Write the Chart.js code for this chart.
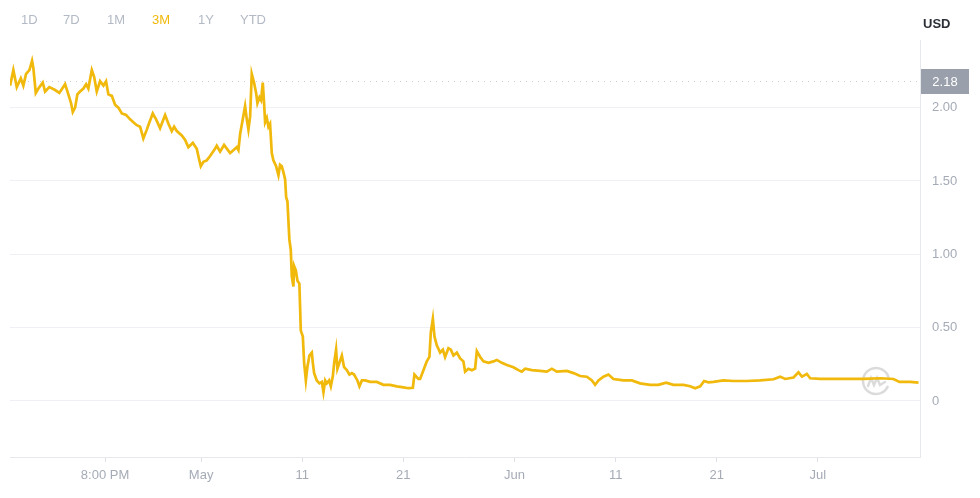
<!DOCTYPE html>
<html>
<head>
<meta charset="utf-8">
<script src="https://cdn.jsdelivr.net/npm/chart.js@4.4.1/dist/chart.umd.min.js"></script>
<style>
    body { margin: 0; background: #fff; font-family: Arial, "Liberation Sans", sans-serif; }
    #wrap { position: relative; width: 980px; height: 498px; }
    .ranges { position: absolute; left: 21px; top: 12px; font-size: 13px; color: #b3bac5; }
    .ranges span { position: absolute; white-space: nowrap; }
    .ranges span.active { color: #f0b90b; }
    .usd { position: absolute; left: 923px; top: 16px; font-size: 13px; font-weight: bold; color: #2b2f36; }
</style>
</head>
<body>
<div id="wrap">
    <div class="ranges" id="ranges"></div>
    <div class="usd">USD</div>
    <canvas id="priceChart"></canvas>
</div>
<script>
// days counted from May 1 (0 = May 1)
const days = [
    -18.89, -18.57, -18.23, -17.83, -17.58, -17.31, -16.98, -16.72, -16.59, -16.35,
    -16.09, -15.66, -15.43, -15.01, -14.44, -14.02, -13.45, -13.13, -12.86, -12.69,
    -12.46, -12.24, -11.97, -11.64, -11.37, -11.15, -10.81, -10.58, -10.32, -9.99,
    -9.66, -9.40, -9.17, -8.83, -8.51, -8.18, -7.84, -7.42, -7.02, -6.70,
    -6.36, -6.03, -5.71, -5.37, -5.11, -4.78, -4.45, -4.06, -3.56, -3.23,
    -2.90, -2.67, -2.40, -1.91, -1.58, -1.26, -0.82, -0.43, -0.17, -0.03,
    0.23, 0.56, 0.89, 1.38, 1.55, 1.88, 2.27, 2.60, 2.87, 3.19,
    3.53, 3.69, 3.86, 4.12, 4.35, 4.52, 4.68, 4.85, 5.01, 5.24,
    5.44, 5.57, 5.77, 5.93, 6.10, 6.23, 6.33, 6.50, 6.66, 6.82,
    6.99, 7.15, 7.42, 7.65, 7.81, 7.98, 8.14, 8.31, 8.41, 8.54,
    8.73, 8.87, 8.97, 9.13, 9.20, 9.37, 9.53, 9.72, 9.86, 10.06,
    10.19, 10.36, 10.51, 10.71, 10.95, 11.05, 11.18, 11.44, 11.70, 11.94,
    12.10, 12.27, 12.43, 12.66, 12.83, 13.03, 13.16, 13.35, 13.48, 13.68,
    13.92, 14.14, 14.41, 14.67, 14.91, 15.13, 15.46, 15.66, 15.90, 16.22,
    16.72, 17.38, 18.03, 18.69, 19.36, 20.01, 20.50, 20.94, 21.10, 21.49,
    21.66, 21.99, 22.32, 22.58, 22.72, 22.92, 23.08, 23.31, 23.64, 23.91,
    24.13, 24.46, 24.70, 24.96, 25.29, 25.62, 25.94, 26.11, 26.44, 26.78,
    27.10, 27.27, 27.60, 27.92, 28.42, 28.91, 29.25, 29.74, 30.24, 30.89,
    31.38, 31.72, 32.05, 32.71, 33.53, 34.19, 34.69, 35.18, 36.17, 36.83,
    37.49, 38.15, 38.65, 38.97, 39.30, 39.79, 40.29, 40.78, 41.77, 42.60,
    43.42, 44.41, 45.23, 45.99, 46.71, 47.71, 48.37, 48.86, 49.36, 49.75,
    50.18, 50.67, 51.66, 52.65, 53.98, 55.29, 56.61, 57.27, 57.76, 58.59,
    59.08, 59.42, 59.91, 60.24, 61.23, 62.55, 63.87, 65.51, 67.16, 68.48,
    69.07, 70.13, 70.95
];
const prices = [
    2.15, 2.256, 2.14, 2.20, 2.15, 2.23, 2.256, 2.32, 2.27, 2.10,
    2.13, 2.17, 2.11, 2.14, 2.12, 2.10, 2.16, 2.09, 2.03, 1.97,
    2.00, 2.09, 2.11, 2.13, 2.16, 2.13, 2.256, 2.21, 2.11, 2.18,
    2.15, 2.18, 2.09, 2.08, 2.02, 2.00, 1.96, 1.95, 1.92, 1.90,
    1.88, 1.87, 1.79, 1.85, 1.90, 1.96, 1.92, 1.86, 1.95, 1.89,
    1.84, 1.87, 1.84, 1.81, 1.78, 1.73, 1.76, 1.72, 1.64, 1.60,
    1.63, 1.64, 1.67, 1.72, 1.74, 1.70, 1.745, 1.715, 1.69, 1.71,
    1.73, 1.71, 1.82, 1.92, 2.01, 1.92, 1.85, 1.94, 2.23, 2.17,
    2.10, 2.03, 2.07, 2.05, 2.17, 2.03, 1.90, 1.93, 1.87, 1.89,
    1.69, 1.64, 1.60, 1.54, 1.61, 1.60, 1.56, 1.51, 1.39, 1.36,
    1.10, 1.03, 0.85, 0.78, 0.92, 0.89, 0.82, 0.80, 0.48, 0.44,
    0.26, 0.14, 0.23, 0.31, 0.33, 0.26, 0.19, 0.14, 0.12, 0.13,
    0.06, 0.14, 0.12, 0.14, 0.10, 0.17, 0.26, 0.35, 0.22, 0.26,
    0.31, 0.23, 0.21, 0.18, 0.19, 0.18, 0.14, 0.10, 0.14, 0.14,
    0.13, 0.13, 0.11, 0.11, 0.10, 0.093, 0.087, 0.09, 0.18, 0.15,
    0.15, 0.21, 0.27, 0.30, 0.47, 0.56, 0.44, 0.38, 0.33, 0.35,
    0.30, 0.36, 0.35, 0.31, 0.33, 0.29, 0.27, 0.20, 0.22, 0.21,
    0.22, 0.34, 0.30, 0.27, 0.26, 0.27, 0.28, 0.26, 0.245, 0.23,
    0.21, 0.20, 0.22, 0.21, 0.205, 0.20, 0.22, 0.20, 0.205, 0.19,
    0.17, 0.165, 0.14, 0.11, 0.14, 0.165, 0.18, 0.15, 0.14, 0.14,
    0.12, 0.11, 0.11, 0.125, 0.11, 0.11, 0.10, 0.087, 0.10, 0.136,
    0.127, 0.13, 0.14, 0.136, 0.136, 0.14, 0.148, 0.166, 0.15, 0.16,
    0.195, 0.166, 0.184, 0.155, 0.15, 0.15, 0.15, 0.15, 0.155, 0.15,
    0.13, 0.13, 0.125
];

const xTickDays = [-9.5, 0, 10, 20, 31, 41, 51, 61];
const xTickLabels = ['8:00 PM', 'May', '11', '21', 'Jun', '11', '21', 'Jul'];
const yTicks = [0, 0.5, 1, 1.5, 2];
const markerPrice = 2.18;

const rangeLabels = ['1D', '7D', '1M', '3M', '1Y', 'YTD'];
const rangeLeft = [0, 42, 86, 131, 177, 219];
const activeRange = '3M';

const rangesEl = document.getElementById('ranges');
rangeLabels.forEach((r, i) => {
    const s = document.createElement('span');
    s.textContent = r;
    s.style.left = rangeLeft[i] + 'px';
    if (r === activeRange) s.className = 'active';
    rangesEl.appendChild(s);
});

const LINE = '#f0b90b';
const LABEL = '#a5abb6';

const overlayPlugin = {
    id: 'overlay',
    beforeDatasetsDraw(chart) {
        const { ctx, chartArea, scales } = chart;
        // watermark
        ctx.save();
        ctx.strokeStyle = 'rgba(190,190,190,0.55)';
        ctx.lineWidth = 2.5;
        ctx.lineCap = 'round';
        const cx = 876, cy = 381;
        ctx.beginPath();
        ctx.arc(cx, cy, 13, Math.PI * 0.15, Math.PI * 1.95);
        ctx.stroke();
        ctx.beginPath();
        ctx.moveTo(cx - 8, cy + 5);
        ctx.lineTo(cx - 5, cy - 3);
        ctx.lineTo(cx - 2, cy + 4);
        ctx.lineTo(cx + 1, cy - 3);
        ctx.lineTo(cx + 4, cy + 4);
        ctx.lineTo(cx + 9, cy + 1);
        ctx.stroke();
        ctx.restore();
        // dotted price line
        const y = scales.y.getPixelForValue(markerPrice);
        ctx.save();
        ctx.strokeStyle = '#c9cdd4';
        ctx.lineWidth = 1;
        ctx.setLineDash([1, 5]);
        ctx.beginPath();
        ctx.moveTo(chartArea.left, Math.round(y) + 0.5);
        ctx.lineTo(chartArea.right, Math.round(y) + 0.5);
        ctx.stroke();
        ctx.restore();
    },
    afterDraw(chart) {
        const { ctx, chartArea, scales } = chart;
        const y = scales.y.getPixelForValue(markerPrice);
        ctx.save();
        ctx.fillStyle = '#9aa0ab';
        ctx.fillRect(chartArea.right + 1, Math.round(y) - 12, 48, 25);
        ctx.fillStyle = '#ffffff';
        ctx.font = '13px Arial, "Liberation Sans", sans-serif';
        ctx.textAlign = 'center';
        ctx.textBaseline = 'middle';
        ctx.fillText(markerPrice.toFixed(2), chartArea.right + 25, Math.round(y) + 1);
        ctx.restore();
    }
};

new Chart(document.getElementById('priceChart'), {
    type: 'line',
    data: {
        datasets: [{
            data: days.map((d, i) => ({ x: d, y: prices[i] })),
            borderColor: LINE,
            borderWidth: 2.7,
            pointRadius: 0,
            tension: 0,
            fill: false
        }]
    },
    options: {
        responsive: true,
        maintainAspectRatio: false,
        animation: false,
        layout: { padding: { left: 10, top: 40, right: 0, bottom: 0 } },
        plugins: {
            legend: { display: false },
            tooltip: { enabled: false }
        },
        scales: {
            x: {
                type: 'linear',
                min: -18.9,
                max: 71.1,
                afterBuildTicks: (axis) => { axis.ticks = xTickDays.map(v => ({ value: v })); },
                afterFit: (scale) => { scale.height = 41; },
                grid: { drawOnChartArea: false, drawTicks: true, tickLength: 5, color: '#dcdfe4' },
                border: { color: '#e6e8ec' },
                ticks: {
                    autoSkip: false,
                    maxRotation: 0,
                    padding: 6,
                    color: LABEL,
                    font: { family: 'Arial, "Liberation Sans", sans-serif', size: 13 },
                    callback: (v, i) => xTickLabels[i]
                }
            },
            y: {
                position: 'right',
                min: -0.382,
                max: 2.461,
                afterBuildTicks: (axis) => { axis.ticks = yTicks.map(v => ({ value: v })); },
                afterFit: (scale) => { scale.width = 60; },
                grid: { color: '#eef0f3', drawTicks: false },
                border: { color: '#e6e8ec' },
                ticks: {
                    padding: 12,
                    color: LABEL,
                    font: { family: 'Arial, "Liberation Sans", sans-serif', size: 13 },
                    callback: (v) => v === 0 ? '0' : v.toFixed(2)
                }
            }
        }
    },
    plugins: [overlayPlugin]
});
</script>
</body>
</html>
